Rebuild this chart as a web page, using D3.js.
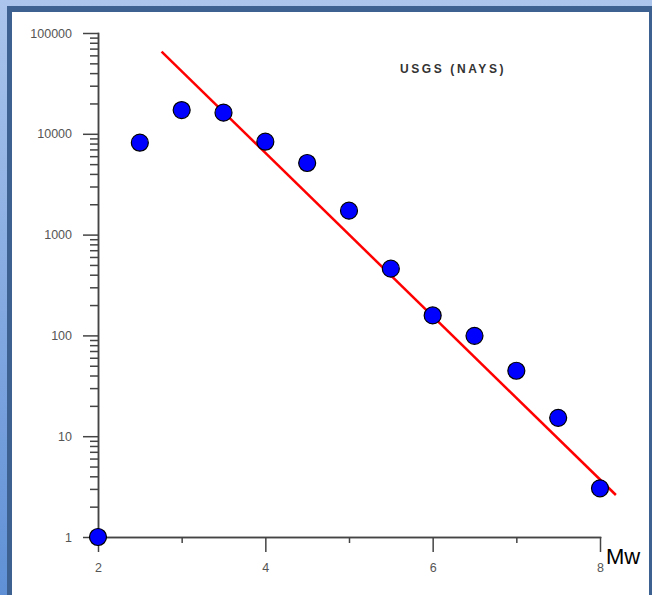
<!DOCTYPE html>
<html>
<head>
<meta charset="utf-8" />
<title>USGS (NAYS)</title>
<script src="https://cdnjs.cloudflare.com/ajax/libs/d3/7.8.5/d3.min.js"></script>
<style>
    body { margin:0; padding:0; overflow:hidden; }
    svg { display:block; font-family: "Liberation Sans", Arial, sans-serif; }
    .tick text { fill:#555; font-size:12.5px; }
    .axis path, .axis line { stroke:#444; stroke-width:1.5; }
</style>
</head>
<body>
<svg id="chart" width="652" height="595"></svg>
<script>
// magnitudes (Mw) and number of events
var magnitudes = [2, 2.5, 3, 3.5, 4, 4.5, 5, 5.5, 6, 6.5, 7, 7.5, 8];
var counts = [1, 8160, 17200, 16200, 8350, 5130, 1727, 459, 158, 99, 44.6, 15.2, 3.04];

// fitted line end points
var fitMw = [2.76, 8.19];
var fitN = [65300, 2.61];

var xTicks = [2, 4, 6, 8];
var xMinor = [3, 5, 7];
var yTicks = [1, 10, 100, 1000, 10000, 100000];

var svg = d3.select("#chart");

// frame
var defs = svg.append("defs");
var grad = defs.append("linearGradient").attr("id", "bg")
    .attr("x1", 0).attr("y1", 0).attr("x2", 0).attr("y2", 1);
grad.append("stop").attr("offset", "0%").attr("stop-color", "#abc5ec");
grad.append("stop").attr("offset", "100%").attr("stop-color", "#5f90d6");
svg.append("rect").attr("width", 652).attr("height", 595).attr("fill", "url(#bg)");
svg.append("rect").attr("x", 7).attr("y", 6).attr("width", 660).attr("height", 600).attr("fill", "#3d6190");
svg.append("rect").attr("x", 12).attr("y", 12).attr("width", 637).attr("height", 600).attr("fill", "#fff");

var x = d3.scaleLinear().domain([2, 8]).range([98, 600]);
var y = d3.scaleLog().domain([1, 100000]).range([537, 33]);

// y axis: minor then major
svg.append("g").attr("class", "axis")
    .attr("transform", "translate(98,0)")
    .call(d3.axisLeft(y).tickValues(y.ticks().filter(function(d){ return yTicks.indexOf(d) < 0; }))
        .tickSize(8).tickSizeOuter(0).tickFormat(""));
svg.append("g").attr("class", "axis")
    .attr("transform", "translate(98,0)")
    .call(d3.axisLeft(y).tickValues(yTicks).tickSize(15).tickSizeOuter(0).tickPadding(11)
        .tickFormat(d3.format("d")));

// x axis
svg.append("g").attr("class", "axis")
    .attr("transform", "translate(0,537)")
    .call(d3.axisBottom(x).tickValues(xMinor).tickSize(6).tickSizeOuter(0).tickFormat(""));
svg.append("g").attr("class", "axis")
    .attr("transform", "translate(0,537)")
    .call(d3.axisBottom(x).tickValues(xTicks).tickSize(15).tickSizeOuter(0).tickPadding(11)
        .tickFormat(d3.format("d")));

svg.selectAll(".axis .domain").attr("stroke-linecap", "square");

// fitted line
var line = d3.line().x(function(d){ return x(d[0]); }).y(function(d){ return y(d[1]); });
svg.append("path")
    .datum(d3.zip(fitMw, fitN))
    .attr("d", line)
    .attr("fill", "none")
    .attr("stroke", "#ff0000")
    .attr("stroke-width", 2.5);

// points
svg.selectAll(".pt")
    .data(d3.zip(magnitudes, counts))
    .enter().append("circle")
    .attr("class", "pt")
    .attr("cx", function(d){ return x(d[0]); })
    .attr("cy", function(d){ return y(d[1]); })
    .attr("r", 8.5)
    .attr("fill", "#0000ff")
    .attr("stroke", "#000")
    .attr("stroke-width", 1.2);

// title
svg.append("text")
    .attr("x", 400).attr("y", 73)
    .attr("font-size", 12).attr("font-weight", "bold")
    .attr("letter-spacing", 2.6)
    .attr("fill", "#333")
    .text("USGS (NAYS)");

// axis name
svg.append("text")
    .attr("x", 606).attr("y", 564)
    .attr("font-size", 22)
    .attr("fill", "#000")
    .text("Mw");
</script>
</body>
</html>
